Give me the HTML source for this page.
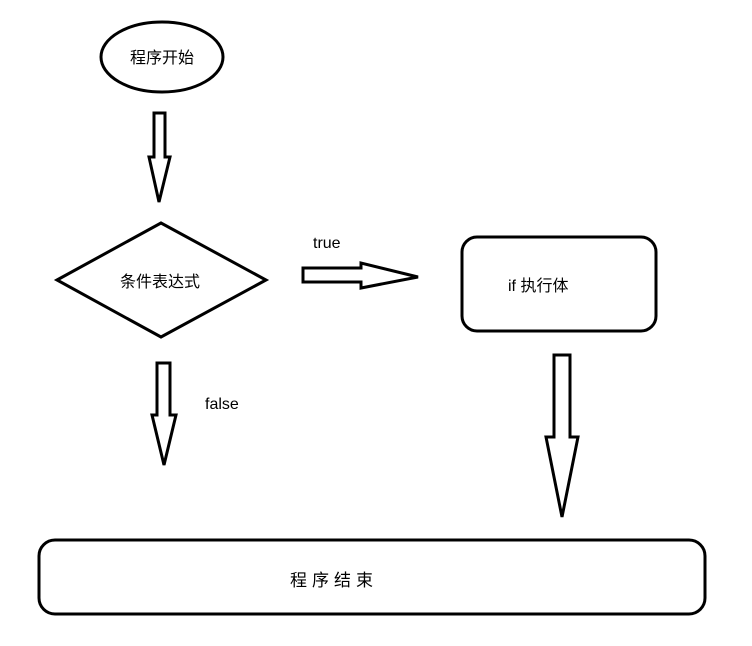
<!DOCTYPE html>
<html><head><meta charset="utf-8"><style>
html,body{margin:0;padding:0;background:#fff;}
svg{display:block;}
text{font-family:"Liberation Sans","Noto Sans CJK SC",sans-serif;fill:#000;}
</style></head><body>
<svg width="752" height="646" viewBox="0 0 752 646" xmlns="http://www.w3.org/2000/svg">
<g fill="none" stroke="#000" stroke-width="3" stroke-linejoin="miter">
<ellipse cx="162" cy="57" rx="61" ry="35"/>
<polygon points="154,113 165,113 165,157 170,157 159,202 149,157 154,157"/>
<polygon points="57,280 161,223 266,280 161,337"/>
<polygon points="303,268 361,268 361,263 418,277 361,288 361,282 303,282"/>
<polygon points="157,363 170,363 170,415 176,415 164,465 152,415 157,415"/>
<rect x="462" y="237" width="194" height="94" rx="15"/>
<polygon points="554,355 570,355 570,437 578,437 562,517 546,437 554,437"/>
<rect x="39" y="540" width="666" height="74" rx="16"/>
</g>
<text x="162" y="63" font-size="16" text-anchor="middle">程序开始</text>
<text x="160" y="287" font-size="16" text-anchor="middle">条件表达式</text>
<text x="313" y="248" font-size="16">true</text>
<text x="205" y="409" font-size="16">false</text>
<text x="508" y="291" font-size="16">if 执行体</text>
<text x="290" y="586" font-size="17" letter-spacing="5">程序结束</text>
</svg>
</body></html>
